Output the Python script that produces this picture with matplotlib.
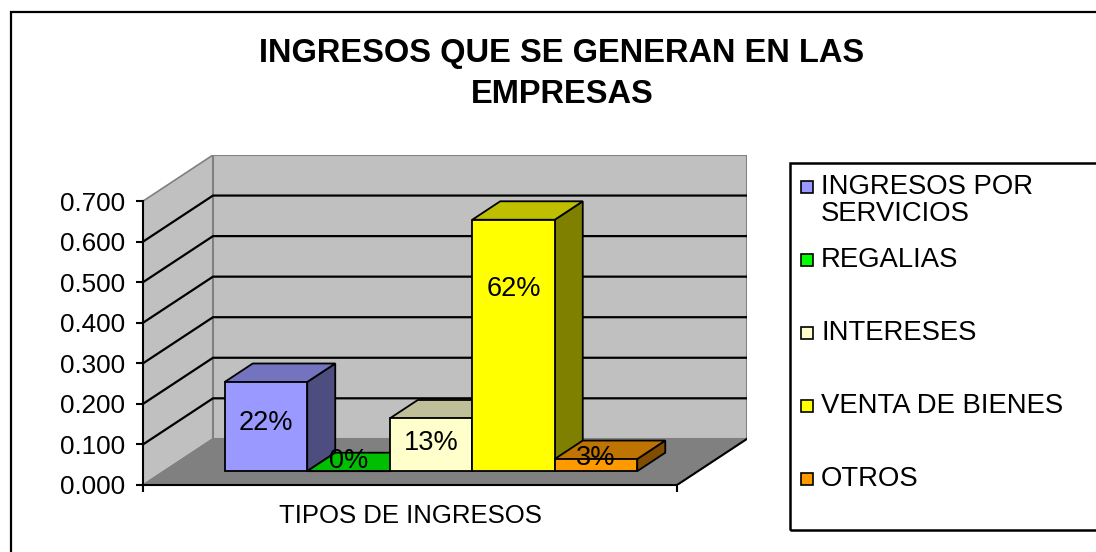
import matplotlib
matplotlib.use("Agg")
import matplotlib.pyplot as plt
from matplotlib.patches import Polygon, Rectangle

plt.rcParams['font.family'] = ['Liberation Sans', 'DejaVu Sans']

# chart data
series = ['INGRESOS POR\nSERVICIOS', 'REGALIAS', 'INTERESES', 'VENTA DE BIENES', 'OTROS']
values = [0.22, 0.00, 0.13, 0.62, 0.03]
pct_labels = ['22%', '0%', '13%', '62%', '3%']
category = 'TIPOS DE INGRESOS'
yticks = [0.0, 0.1, 0.2, 0.3, 0.4, 0.5, 0.6, 0.7]
title = 'INGRESOS QUE SE GENERAN EN LAS\nEMPRESAS'

# style
colors = ['#9999FF', '#00FF00', '#FFFFCC', '#FFFF00', '#FF9900']
label_height = [0.119, 0.025, 0.069, 0.448, 0.032]  # where the % text sits above bar base

W, H = 1096, 552
DX = 70 / 534      # depth shear, x (front width = 1)
DY = 46 / 404.3    # depth shear, value units
YMAX = 0.7
Z0, Z1 = 0.3, 0.7  # bar depth range
GROUP = 0.7725     # fraction of front width taken by the bars


def shade(c, f):
    r, g, b = matplotlib.colors.to_rgb(c)
    return (r * f, g * f, b * f)


def P(x, v, z):
    return (x + z * DX, v + z * DY)


def fx(px):
    return px / W


def fy(py):
    return 1 - py / H


fig = plt.figure(figsize=(W / 100, H / 100), dpi=100)
fig.patch.set_facecolor('white')

# outer chart border
fig.patches.append(Rectangle((fx(11), fy(600)), 2, fy(12) - fy(600), transform=fig.transFigure,
                             fill=False, ec='black', lw=1.6))

ax = fig.add_axes([fx(143), fy(485), fx(143 + 534 + 70) - fx(143), fy(155) - fy(485)])
ax.set_xlim(0, 1 + DX)
ax.set_ylim(0, YMAX + DY)
ax.patch.set_visible(False)

# walls and floor
wall = '#C0C0C0'
edge = '#808080'
ax.add_patch(Polygon([P(0, 0, 0), P(0, YMAX, 0), P(0, YMAX, 1), P(0, 0, 1)], closed=True,
                     fc=wall, ec=edge, lw=1.2, zorder=1))
ax.add_patch(Polygon([P(0, 0, 1), P(1, 0, 1), P(1, YMAX, 1), P(0, YMAX, 1)], closed=True,
                     fc=wall, ec=edge, lw=1.5, zorder=1))
ax.add_patch(Polygon([P(0, 0, 0), P(1, 0, 0), P(1, 0, 1), P(0, 0, 1)], closed=True,
                     fc='#808080', ec=edge, lw=1.0, zorder=1))
fr = [P(1, 0, 0), P(1, 0, 1)]
ax.plot([fr[0][0], fr[1][0]], [fr[0][1], fr[1][1]], color='black', lw=1.5, zorder=1.6)

# gridlines on back and side walls
for v in yticks[1:-1]:
    a, b, c = P(0, v, 0), P(0, v, 1), P(1, v, 1)
    ax.plot([a[0], b[0], c[0]], [a[1], b[1], c[1]], color='black', lw=1.6, zorder=1.5)

# bars
w = GROUP / len(values)
x_start = (1 - GROUP) / 2
for i, (v, c) in enumerate(zip(values, colors)):
    x0 = x_start + i * w
    x1 = x0 + w
    zo = 3 + i
    front = [P(x0, 0, Z0), P(x1, 0, Z0), P(x1, v, Z0), P(x0, v, Z0)]
    top = [P(x0, v, Z0), P(x1, v, Z0), P(x1, v, Z1), P(x0, v, Z1)]
    side = [P(x1, 0, Z0), P(x1, 0, Z1), P(x1, v, Z1), P(x1, v, Z0)]
    ax.add_patch(Polygon(side, closed=True, fc=shade(c, 0.5), ec='black', lw=1.3, zorder=zo))
    ax.add_patch(Polygon(top, closed=True, fc=shade(c, 0.75), ec='black', lw=1.3, zorder=zo))
    ax.add_patch(Polygon(front, closed=True, fc=c, ec='black', lw=1.3, zorder=zo))
    lx, ly = P((x0 + x1) / 2, label_height[i], Z0)
    ax.text(lx, ly, pct_labels[i], ha='center', va='center', fontsize=19.5, color='black', zorder=20)

# axes
for s in ['top', 'right']:
    ax.spines[s].set_visible(False)
ax.spines['left'].set_bounds(0, YMAX)
ax.spines['bottom'].set_bounds(0, 1)
ax.spines['left'].set_linewidth(1.5)
ax.spines['bottom'].set_linewidth(1.5)
ax.spines['left'].set_zorder(10)
ax.spines['bottom'].set_zorder(10)
ax.set_yticks(yticks)
ax.set_yticklabels(['%.3f' % t for t in yticks])
ax.set_xticks([0, 1])
ax.set_xticklabels([])
ax.tick_params(axis='y', direction='out', length=5, width=1.5, pad=8, labelsize=18.7)
ax.tick_params(axis='x', direction='out', length=5, width=1.5)
ax.text(0.5, -0.077, category, ha='center', va='center', fontsize=18.5)

# title
fig.text(fx(562), fy(74), title, ha='center', va='center', fontsize=23.5, fontweight='bold',
         linespacing=1.4)

# legend
fig.patches.append(Rectangle((fx(790), fy(530)), 1, fy(163) - fy(530), transform=fig.transFigure,
                             fill=False, ec='black', lw=1.8))
for i, (name, c) in enumerate(zip(series, colors)):
    yc = 187 + 73 * i
    fig.patches.append(Rectangle((fx(801), fy(yc + 6)), fx(12), 12 / H, transform=fig.transFigure,
                                 fc=c, ec='black', lw=1.2))
    for j, line in enumerate(name.split('\n')):
        fig.text(fx(821), fy(yc + 27 * j), line, ha='left', va='center', fontsize=19.8)

fig.savefig('out.png', dpi=100)
